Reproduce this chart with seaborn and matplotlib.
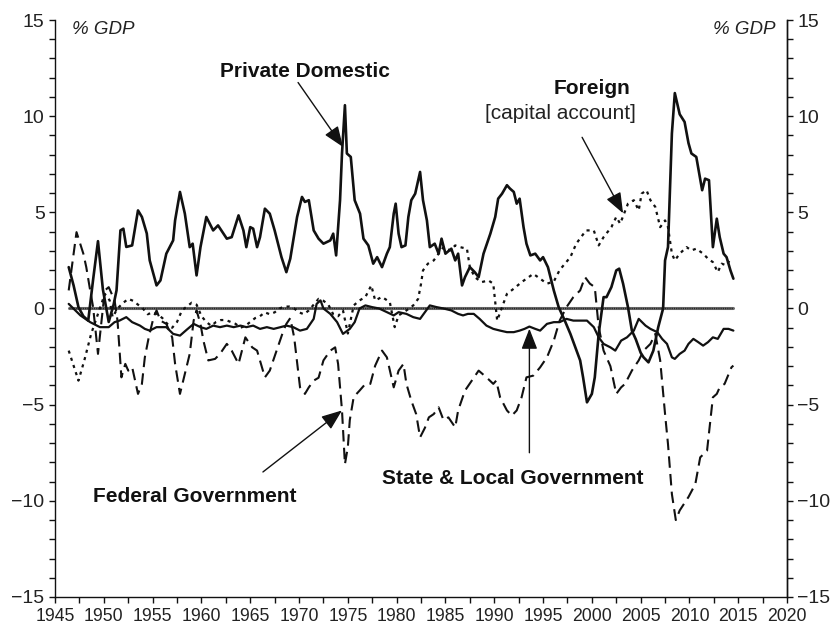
import matplotlib
matplotlib.use("Agg")
import matplotlib.pyplot as plt
from matplotlib.ticker import MultipleLocator, FuncFormatter
import seaborn as sns
import pandas as pd

# ---------------- data ----------------
private_years = [1946.4, 1946.9, 1947.4, 1947.9, 1948.4, 1948.9, 1949.4, 1949.9, 1950.5, 1951.0,
                 1951.3, 1951.7, 1952.0, 1952.3, 1952.9, 1953.5, 1953.9, 1954.4, 1954.7, 1955.4,
                 1955.8, 1956.4, 1957.1, 1957.3, 1957.8, 1958.3, 1958.8, 1959.1, 1959.5, 1959.9,
                 1960.5, 1961.2, 1961.7, 1962.6, 1963.1, 1963.8, 1964.3, 1964.6, 1965.0, 1965.3,
                 1965.7, 1966.0, 1966.5, 1967.0, 1967.5, 1968.2, 1968.7, 1969.1, 1969.8, 1970.3,
                 1970.6, 1971.0, 1971.5, 1972.0, 1972.5, 1973.2, 1973.5, 1973.8, 1974.2, 1974.4,
                 1974.7, 1974.9, 1975.3, 1975.7, 1976.25, 1976.6, 1977.1, 1977.6, 1978.0, 1978.5,
                 1979.0, 1979.3, 1979.7, 1979.9, 1980.2, 1980.5, 1980.9, 1981.2, 1981.5, 1981.9,
                 1982.4, 1982.7, 1983.1, 1983.4, 1983.9, 1984.3, 1984.6, 1985.0, 1985.6, 1986.0,
                 1986.3, 1986.7, 1987.0, 1987.5, 1988.0, 1988.4, 1988.9, 1989.6, 1990.1, 1990.4,
                 1990.8, 1991.3, 1991.6, 1992.0, 1992.3, 1992.6, 1993.0, 1993.3, 1993.7, 1994.2,
                 1994.7, 1995.0, 1995.5, 1996.1, 1996.6, 1997.2, 1997.8, 1998.8, 1999.1, 1999.5,
                 2000.0, 2000.3, 2000.7, 2001.2, 2001.5, 2002.0, 2002.5, 2002.8, 2003.2, 2003.7,
                 2004.1, 2004.5, 2005.0, 2005.3, 2005.8, 2006.3, 2006.8, 2007.3, 2007.5, 2007.8,
                 2008.2, 2008.5, 2009.0, 2009.5, 2009.9, 2010.2, 2010.7, 2011.3, 2011.6, 2012.0,
                 2012.4, 2012.8, 2013.1, 2013.5, 2013.8, 2014.2, 2014.5]
private_vals = [2.15, 1.2, 0.07, -0.4, -0.63, 1.5, 3.5, 1.0, -0.7, 0.2,
                0.94, 4.06, 4.15, 3.2, 3.28, 5.1, 4.76, 3.9, 2.5, 1.2,
                1.46, 2.85, 3.54, 4.58, 6.06, 4.93, 3.19, 3.37, 1.72, 3.19,
                4.76, 4.06, 4.32, 3.63, 3.71, 4.84, 4.06, 3.19, 4.23, 4.15,
                3.19, 3.71, 5.19, 4.93, 4.06, 2.67, 1.89, 2.59, 4.76, 5.8,
                5.54, 5.63, 4.06, 3.63, 3.37, 3.54, 3.89, 2.76, 5.63, 8.06,
                10.57, 8.06, 7.88, 5.63, 4.93, 3.63, 3.28, 2.33, 2.67, 2.15,
                2.85, 3.19, 4.93, 5.45, 3.89, 3.19, 3.28, 4.76, 5.63, 5.97,
                7.1, 5.63, 4.58, 3.19, 3.37, 2.85, 3.63, 2.85, 3.11, 2.5,
                2.85, 1.2, 1.63, 2.15, 1.89, 1.63, 2.85, 3.89, 4.76, 5.71,
                5.97, 6.41, 6.24, 6.06, 5.45, 5.71, 4.23, 3.37, 2.76, 2.85,
                2.5, 2.67, 2.15, 0.94, 0.07, -0.6, -1.32, -2.7, -3.58, -4.88,
                -4.44, -3.58, -1.32, 0.59, 0.59, 1.11, 1.98, 2.07, 1.29, 0.07,
                -1.15, -1.6, -2.3, -2.54, -2.8, -2.19, -0.97, 0.0, 2.5, 3.19,
                9.1, 11.2, 10.1, 9.7, 8.6, 8.06, 7.88, 6.15, 6.75, 6.67,
                3.19, 4.67, 3.71, 2.85, 2.67, 1.98, 1.55]

foreign_years = [1946.4, 1947.4, 1948.0, 1948.7, 1949.4, 1950.1, 1950.6, 1950.9, 1951.4, 1952.0,
                 1952.5, 1953.0, 1953.5, 1954.0, 1954.5, 1955.0, 1955.5, 1956.0, 1956.5, 1957.0,
                 1957.5, 1958.0, 1958.5, 1959.0, 1959.5, 1960.0, 1960.5, 1961.0, 1961.5, 1962.0,
                 1962.5, 1963.0, 1963.5, 1964.0, 1964.5, 1965.0, 1965.5, 1966.0, 1966.5, 1967.0,
                 1967.5, 1968.0, 1968.5, 1969.0, 1969.5, 1970.0, 1970.5, 1971.0, 1971.5, 1972.0,
                 1972.5, 1973.0, 1973.5, 1974.0, 1974.5, 1975.0, 1975.6, 1976.2, 1976.8, 1977.4,
                 1977.8, 1978.5, 1979.3, 1979.8, 1980.2, 1981.0, 1981.7, 1982.2, 1982.5, 1982.7,
                 1983.2, 1983.8, 1984.3, 1984.8, 1985.5, 1986.0, 1986.5, 1987.2, 1987.5, 1988.0,
                 1988.7, 1989.4, 1989.9, 1990.3, 1990.8, 1991.3, 1992.0, 1992.8, 1994.0, 1994.7,
                 1995.4, 1996.1, 1996.7, 1997.8, 1998.4, 1999.4, 2000.2, 2000.7, 2001.2, 2002.0,
                 2002.5, 2002.9, 2003.7, 2004.3, 2004.8, 2005.1, 2005.6, 2006.0, 2006.5, 2007.0,
                 2007.5, 2007.8, 2008.2, 2008.5, 2009.0, 2009.7, 2010.2, 2010.7, 2011.4, 2011.9,
                 2012.4, 2012.9, 2013.3, 2013.8, 2014.3]
foreign_vals = [-2.19, -3.75, -2.7, -1.32, -0.28, 0.76, 0.42, -0.45, 0.0, 0.3,
                0.5, 0.4, 0.2, 0.0, -0.3, -0.2, -0.3, -0.5, -0.8, -1.0,
                -0.7, -0.1, 0.1, 0.3, 0.2, -0.4, -0.7, -0.9, -0.7, -0.6,
                -0.6, -0.7, -0.8, -1.0, -0.9, -0.7, -0.5, -0.4, -0.2, -0.3,
                -0.2, 0.0, 0.1, 0.1, 0.0, -0.2, -0.3, -0.1, 0.2, 0.5,
                0.4, 0.2, -0.3, -0.4, -0.1, -1.3, 0.16, 0.42, 0.6, 1.2,
                0.42, 0.6, 0.33, -0.97, -0.36, -0.1, 0.16, 0.5, 1.29, 1.98,
                2.33, 2.5, 2.85, 3.19, 3.02, 3.28, 3.19, 3.11, 2.15, 1.63,
                1.37, 1.46, 1.29, -0.63, 0.07, 0.76, 1.03, 1.37, 1.8, 1.55,
                1.29, 1.4, 2.0, 2.67, 3.37, 4.06, 4.06, 3.28, 3.71, 4.23,
                4.76, 4.41, 5.45, 5.63, 5.1, 5.97, 6.15, 5.63, 5.28, 4.23,
                4.58, 4.23, 2.85, 2.5, 2.85, 3.19, 3.02, 3.11, 2.85, 2.59,
                2.41, 1.89, 2.33, 2.24, 2.67]

federal_years = [1946.4, 1947.2, 1947.9, 1948.2, 1948.6, 1948.9, 1949.4, 1949.8, 1950.1, 1950.5,
                 1950.8, 1951.1, 1951.4, 1951.8, 1952.2, 1952.5, 1952.9, 1953.2, 1953.5, 1953.9,
                 1954.2, 1954.6, 1955.1, 1955.4, 1955.8, 1956.4, 1957.0, 1957.3, 1957.8, 1958.3,
                 1958.8, 1959.2, 1959.5, 1959.9, 1960.2, 1960.7, 1961.4, 1961.9, 1962.6, 1963.1,
                 1963.8, 1964.5, 1965.2, 1965.7, 1966.5, 1967.0, 1967.7, 1968.4, 1968.7, 1969.1,
                 1969.5, 1970.1, 1970.6, 1971.0, 1971.5, 1972.0, 1972.5, 1973.2, 1973.7, 1974.0,
                 1974.4, 1974.7, 1975.0, 1975.2, 1975.6, 1976.2, 1976.8, 1977.3, 1977.8, 1978.5,
                 1979.0, 1979.7, 1980.2, 1980.7, 1981.0, 1981.5, 1982.0, 1982.4, 1982.9, 1983.3,
                 1983.8, 1984.3, 1984.8, 1985.3, 1986.0, 1986.3, 1987.0, 1987.7, 1988.4, 1989.2,
                 1989.9, 1990.2, 1990.6, 1991.3, 1991.8, 1992.3, 1992.8, 1993.3, 1994.0, 1994.7,
                 1995.4, 1996.1, 1996.7, 1997.4, 1998.1, 1998.8, 1999.3, 1999.8, 2000.3, 2000.7,
                 2001.2, 2001.9, 2002.5, 2003.0, 2003.4, 2004.1, 2004.8, 2005.3, 2006.0, 2006.5,
                 2007.0, 2007.5, 2007.8, 2008.2, 2008.6, 2009.0, 2009.9, 2010.6, 2011.1, 2011.8,
                 2012.1, 2012.4, 2012.8, 2013.1, 2013.6, 2014.3, 2014.5]
federal_vals = [0.94, 3.97, 2.85, 2.15, 0.94, 0.07, -2.36, -0.5, 0.94, 1.11,
                0.76, 0.42, -0.63, -3.58, -2.88, -3.23, -3.05, -3.75, -4.44, -3.92,
                -2.54, -1.5, -0.45, -0.1, -0.63, -0.8, -1.5, -2.88, -4.44, -3.4,
                -2.36, -0.63, -0.1, -0.8, -1.67, -2.7, -2.62, -2.36, -1.84, -2.19,
                -2.88, -1.5, -2.02, -2.19, -3.58, -3.23, -2.19, -1.15, -0.8, -0.5,
                -1.5, -4.1, -4.44, -4.1, -3.75, -3.6, -2.7, -2.19, -2.02, -2.88,
                -5.3, -8.1, -7.2, -5.8, -4.6, -4.27, -3.92, -3.92, -2.97, -2.19,
                -2.54, -4.1, -3.23, -2.88, -3.92, -4.79, -5.49, -6.7, -6.2, -5.66,
                -5.49, -5.14, -5.8, -5.66, -6.18, -5.3, -4.27, -3.75, -3.23, -3.58,
                -3.92, -3.75, -4.62, -5.3, -5.57, -5.3, -4.62, -3.58, -3.49, -3.06,
                -2.54, -1.67, -0.63, 0.07, 0.59, 0.94, 1.63, 1.29, 1.11, -0.97,
                -2.19, -3.0, -4.44, -4.1, -3.92, -3.23, -2.7, -2.19, -1.84, -1.32,
                -2.7, -5.49, -7.05, -9.65, -11.0, -10.5, -9.8, -9.13, -7.74, -7.4,
                -6.0, -4.62, -4.44, -4.1, -3.92, -3.06, -2.97]

state_years = [1946.4, 1947.6, 1948.6, 1949.6, 1950.5, 1951.1, 1951.6, 1952.3, 1952.9, 1953.7,
               1954.2, 1954.7, 1955.4, 1956.4, 1957.1, 1957.8, 1958.5, 1959.2, 1959.9, 1960.5,
               1961.2, 1961.9, 1962.6, 1963.3, 1964.0, 1964.6, 1965.3, 1966.0, 1966.7, 1967.4,
               1968.1, 1968.7, 1969.4, 1970.1, 1970.8, 1971.5, 1971.8, 1972.2, 1972.5, 1973.2,
               1973.9, 1974.5, 1975.2, 1975.7, 1976.2, 1976.8, 1977.5, 1978.2, 1979.0, 1979.7,
               1980.2, 1981.0, 1981.7, 1982.4, 1982.9, 1983.4, 1984.1, 1984.8, 1985.6, 1986.3,
               1986.8, 1987.3, 1987.9, 1988.5, 1989.2, 1989.9, 1990.6, 1991.3, 1992.0, 1992.6,
               1993.1, 1993.6, 1994.2, 1994.7, 1995.4, 1996.1, 1996.7, 1997.4, 1998.1, 1998.8,
               1999.5, 2000.2, 2000.7, 2001.2, 2001.9, 2002.4, 2003.0, 2003.6, 2004.3, 2004.8,
               2005.5, 2006.0, 2006.7, 2007.2, 2007.7, 2008.2, 2008.5, 2009.0, 2009.5, 2009.9,
               2010.4, 2010.9, 2011.4, 2011.9, 2012.4, 2012.9, 2013.5, 2014.0, 2014.5]
state_vals = [0.24, -0.36, -0.71, -0.97, -0.97, -0.71, -0.63, -0.45, -0.71, -0.89,
              -1.06, -1.15, -0.97, -0.97, -1.32, -1.41, -1.1, -0.8, -0.97, -1.06,
              -0.89, -0.97, -0.89, -0.97, -0.89, -0.97, -0.89, -1.06, -0.97, -1.06,
              -0.97, -0.89, -0.97, -1.15, -1.06, -0.54, 0.24, 0.42, 0.0, -0.28,
              -0.71, -1.32, -1.06, -0.71, 0.0, 0.16, 0.07, 0.0, -0.19, -0.36,
              -0.19, -0.28, -0.45, -0.54, -0.19, 0.16, 0.07, 0.0, -0.1, -0.28,
              -0.36, -0.28, -0.28, -0.54, -0.89, -1.06, -1.15, -1.23, -1.23, -1.15,
              -1.06, -0.94, -1.06, -1.15, -0.8, -0.71, -0.71, -0.54, -0.63, -0.63,
              -0.63, -0.97, -1.5, -1.84, -2.02, -2.19, -1.67, -1.5, -1.15, -0.54,
              -0.89, -1.06, -1.23, -1.58, -1.84, -2.54, -2.62, -2.36, -2.19, -1.84,
              -1.58, -1.75, -1.93, -1.75, -1.5, -1.58, -1.06, -1.06, -1.15]

zero_years = [1946.4, 2014.5]
zero_vals = [0.0, 0.0]

x_ticks = [1945, 1950, 1955, 1960, 1965, 1970, 1975, 1980, 1985, 1990,
           1995, 2000, 2005, 2010, 2015, 2020]
y_ticks = [-15, -10, -5, 0, 5, 10, 15]

# ---------------- styling ----------------
sns.set_theme(style="white")
plt.rcParams["font.family"] = ["Liberation Sans", "DejaVu Sans"]
plt.rcParams["axes.unicode_minus"] = True

fig = plt.figure(figsize=(8.39, 6.29), dpi=100)
ax = fig.add_axes([0.0656, 0.0509, 0.8725, 0.9173])

ink = "#111111"

def draw(xs, ys, lw, dashes=None, color=ink):
    df = pd.DataFrame({"year": xs, "value": ys})
    sns.lineplot(data=df, x="year", y="value", ax=ax, color=color, lw=lw,
                 estimator=None, sort=False, legend=False)
    line = ax.lines[-1]
    if dashes is not None:
        line.set_dashes(dashes)
    return line

# zero line: heavy grey with dotted texture
draw(zero_years, zero_vals, 2.2, color="#6a6a6a")
draw(zero_years, zero_vals, 1.0, dashes=[0.8, 0.8], color="#222222")
draw(state_years, state_vals, 1.6)
draw(foreign_years, foreign_vals, 1.6, dashes=[1.4, 2.0])
draw(federal_years, federal_vals, 1.5, dashes=[5.5, 3.0])
draw(private_years, private_vals, 1.9)

ax.set_xlim(1945, 2020)
ax.set_ylim(-15, 15)
ax.set_xlabel("")
ax.set_ylabel("")

ax.spines["top"].set_visible(False)
for s in ["left", "bottom", "right"]:
    ax.spines[s].set_visible(True)
    ax.spines[s].set_color(ink)
    ax.spines[s].set_linewidth(1.0)

minus = lambda v, p: (f"{int(v)}".replace("-", "\u2212"))
ax.xaxis.set_minor_locator(MultipleLocator(2.5))
ax.set_xticks(x_ticks)
ax.yaxis.set_minor_locator(MultipleLocator(1))
ax.set_yticks(y_ticks)
ax.yaxis.set_major_formatter(FuncFormatter(minus))
ax.tick_params(axis="both", which="both", direction="out", length=4.5, width=1.0,
               color=ink, bottom=True, left=True)
ax.tick_params(axis="x", which="major", labelsize=12.7, pad=3.5, labelcolor="#222222")
ax.tick_params(axis="y", which="major", labelsize=14, pad=3, labelcolor="#222222")

ax2 = ax.twinx()
ax2.set_ylim(-15, 15)
ax2.yaxis.set_minor_locator(MultipleLocator(1))
ax2.set_yticks(y_ticks)
ax2.yaxis.set_major_formatter(FuncFormatter(minus))
ax2.tick_params(axis="y", which="both", direction="out", length=4.5, width=1.0, color=ink,
                right=True)
ax2.tick_params(axis="y", which="major", labelsize=14, pad=3, labelcolor="#222222")
for s in ["top", "left", "bottom"]:
    ax2.spines[s].set_visible(False)
ax2.spines["right"].set_color(ink)
ax2.spines["right"].set_linewidth(1.0)
ax2.grid(False)
ax.grid(False)

# unit labels
ax.text(1946.7, 14.5, "% GDP", fontsize=13.5, style="italic", ha="left", va="center",
        color="#222222")
ax.text(2018.8, 14.5, "% GDP", fontsize=13.5, style="italic", ha="right", va="center",
        color="#222222")

# series labels
ax.text(1970.6, 12.3, "Private Domestic", fontsize=15, fontweight="bold", ha="center",
        va="center", color=ink)
ax.text(2000.0, 11.45, "Foreign", fontsize=15, fontweight="bold", ha="center",
        va="center", color=ink)
ax.text(1996.8, 10.15, "[capital account]", fontsize=15, ha="center", va="center",
        color="#222222")
ax.text(1959.3, -9.75, "Federal Government", fontsize=15, fontweight="bold", ha="center",
        va="center", color=ink)
ax.text(1991.9, -8.85, "State & Local Government", fontsize=15, fontweight="bold",
        ha="center", va="center", color=ink)

arrow = dict(arrowstyle="-|>,head_length=0.9,head_width=0.35", lw=1.0, color=ink,
             shrinkA=0, shrinkB=0, mutation_scale=14)
ax.annotate("", xy=(1974.5, 8.4), xytext=(1969.9, 11.75), arrowprops=arrow)
ax.annotate("", xy=(2003.2, 4.95), xytext=(1999.0, 8.9), arrowprops=arrow)
ax.annotate("", xy=(1974.4, -5.3), xytext=(1966.3, -8.5), arrowprops=arrow)
ax.annotate("", xy=(1993.6, -1.05), xytext=(1993.6, -7.5), arrowprops=arrow)

fig.savefig("out.png", dpi=100)
